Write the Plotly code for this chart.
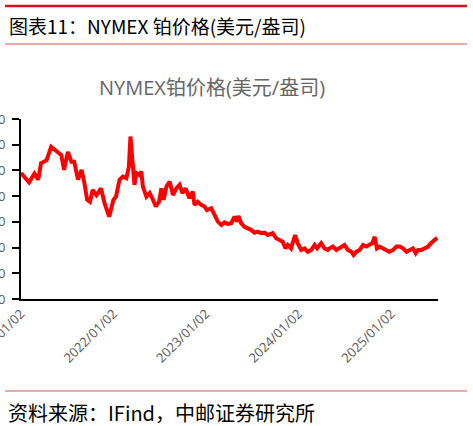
import plotly.graph_objects as go

# ---------------- data ----------------
dates = [
    "2021-01-02", "2021-01-23", "2021-02-03", "2021-02-24", "2021-03-11", "2021-03-22",
    "2021-04-13", "2021-05-01", "2021-05-23", "2021-06-10", "2021-06-21", "2021-07-06",
    "2021-07-20", "2021-07-31", "2021-08-15", "2021-08-29", "2021-09-09", "2021-09-20",
    "2021-10-01", "2021-10-12", "2021-10-27", "2021-11-14", "2021-11-28", "2021-12-16",
    "2022-01-02", "2022-01-12", "2022-01-26", "2022-02-08", "2022-02-22", "2022-03-04",
    "2022-03-10", "2022-03-17", "2022-03-26", "2022-04-02", "2022-04-15", "2022-04-22",
    "2022-04-28", "2022-05-12", "2022-05-25", "2022-06-07", "2022-06-18", "2022-07-01",
    "2022-07-10", "2022-07-19", "2022-07-30", "2022-08-12", "2022-08-25", "2022-09-07",
    "2022-09-20", "2022-10-01", "2022-10-14", "2022-10-29", "2022-11-11", "2022-11-18",
    "2022-12-01", "2022-12-14", "2022-12-27",
    "2023-01-06", "2023-01-23", "2023-02-05", "2023-02-18", "2023-03-04", "2023-03-16",
    "2023-03-29", "2023-04-12", "2023-04-25", "2023-05-05", "2023-05-10", "2023-05-21",
    "2023-06-03", "2023-06-16", "2023-06-29", "2023-07-13", "2023-07-25", "2023-08-08",
    "2023-08-21", "2023-09-03", "2023-09-23", "2023-10-06", "2023-10-19", "2023-11-01",
    "2023-11-12", "2023-11-21", "2023-12-04", "2023-12-20", "2023-12-30",
    "2024-01-13", "2024-01-26", "2024-02-08", "2024-02-22", "2024-03-06", "2024-03-16",
    "2024-04-01", "2024-04-14", "2024-04-27", "2024-05-04", "2024-05-17", "2024-05-31",
    "2024-06-13", "2024-07-02", "2024-07-15", "2024-07-29", "2024-08-07", "2024-08-18",
    "2024-08-31", "2024-09-13", "2024-09-26", "2024-10-09", "2024-10-20", "2024-10-29",
    "2024-11-07", "2024-11-17", "2024-11-30", "2024-12-13", "2024-12-26",
    "2025-01-10", "2025-01-23", "2025-02-05", "2025-02-18", "2025-03-04", "2025-03-16",
    "2025-03-29", "2025-04-09", "2025-04-18", "2025-05-02", "2025-05-15", "2025-05-28",
    "2025-06-08", "2025-06-17", "2025-06-27", "2025-07-03",
]
prices = [
    2450, 2330, 2270, 2440, 2320, 2640,
    2700, 2960, 2870, 2800, 2510, 2860,
    2670, 2670, 2320, 2510, 2260, 1930,
    1890, 2120, 2020, 2150, 1860, 1600,
    1930, 1990, 2320, 2380, 2350, 2575,
    3160, 2770, 2220, 2450, 2410, 2480,
    2185, 1990, 2060, 1930, 1800, 1890,
    2150, 1930, 2185, 2280, 2020, 2150,
    2220, 2060, 2150, 1960, 2090, 1830,
    1890, 1830, 1800,
    1730, 1765, 1635, 1505, 1440, 1490,
    1460, 1475, 1600, 1505, 1615, 1475,
    1405, 1375, 1345, 1290, 1310, 1280,
    1290, 1245, 1280, 1180, 1150, 1115,
    985, 1050, 985, 1245, 1085,
    955, 985, 920, 955, 1050, 985,
    1085, 985, 955, 985, 1020, 955,
    985, 1050, 955, 920, 855, 920,
    955, 1050, 1020, 1050, 1085, 1210,
    985, 1020, 985, 955, 920,
    955, 1020, 1020, 985, 920, 955,
    985, 890, 955, 955, 985, 1020,
    1085, 1115, 1150, 1190,
]
tick_dates = ["2021-01-02", "2022-01-02", "2023-01-02", "2024-01-02", "2025-01-02"]
tick_labels = ["2021/01/02", "2022/01/02", "2023/01/02", "2024/01/02", "2025/01/02"]
y_ticks = [0, 500, 1000, 1500, 2000, 2500, 3000, 3500]
header_text = "图表11：NYMEX 铂价格(美元/盎司)"
chart_title = "NYMEX铂价格(美元/盎司)"
source_text = "资料来源：IFind，中邮证券研究所"

# ---------------- layout helpers ----------------
W, H = 473, 426
PL, PR, PT, PB = 21, 438, 119, 299


def fx(x):
    return (x - PL) / (PR - PL)


def fy(y):
    return (PB - y) / (PB - PT)


fig = go.Figure()
fig.add_trace(go.Scatter(
    x=dates, y=prices, mode="lines",
    line=dict(color="#FF0000", width=4),
    hoverinfo="skip", showlegend=False,
))

shapes = [
    dict(type="line", xref="paper", yref="paper", x0=fx(5), x1=fx(467), y0=fy(6), y1=fy(6),
         line=dict(color="#D7141C", width=2.5)),
    dict(type="line", xref="paper", yref="paper", x0=fx(5), x1=fx(467), y0=fy(44), y1=fy(44),
         line=dict(color="#E58C8C", width=1.5)),
    dict(type="line", xref="paper", yref="paper", x0=fx(5), x1=fx(467), y0=fy(391), y1=fy(391),
         line=dict(color="#E58C8C", width=1.5)),
]

annotations = [
    dict(text=header_text, xref="paper", yref="paper", x=fx(7), y=fy(25),
         xanchor="left", yanchor="middle", showarrow=False,
         font=dict(family="Noto Sans CJK SC", size=19, color="#000000")),
    dict(text=chart_title, xref="paper", yref="paper", x=fx(212), y=fy(88),
         xanchor="center", yanchor="middle", showarrow=False,
         font=dict(family="Open Sans, Noto Sans CJK SC", size=20, color="#666666")),
    dict(text=source_text, xref="paper", yref="paper", x=fx(6), y=fy(412),
         xanchor="left", yanchor="middle", showarrow=False,
         font=dict(family="Noto Sans CJK SC", size=20, color="#000000")),
]

fig.update_layout(
    width=W, height=H,
    margin=dict(l=PL, r=W - PR, t=PT, b=H - PB, pad=0),
    paper_bgcolor="white", plot_bgcolor="white",
    shapes=shapes, annotations=annotations,
    showlegend=False,
    xaxis=dict(
        type="date", range=["2021-01-02", "2025-07-06"],
        tickmode="array", tickvals=tick_dates, ticktext=tick_labels,
        tickangle=-45, ticks="", showgrid=False, zeroline=False,
        showline=True, linecolor="#000000", linewidth=2,
        tickfont=dict(family="Open Sans", size=13, color="#595959"),
        ticklabeloverflow="allow",
        automargin=False,
    ),
    yaxis=dict(
        range=[0, 3500], tickmode="array", tickvals=y_ticks,
        ticks="outside", ticklen=7, tickwidth=2, tickcolor="#000000",
        ticklabelstandoff=4,
        showgrid=False, zeroline=False,
        showline=True, linecolor="#000000", linewidth=2,
        tickfont=dict(family="Open Sans", size=13, color="#595959"),
        ticklabeloverflow="allow",
        automargin=False,
    ),
)

fig.write_html("out.html", config={"displayModeBar": False},
               post_script="document.body.style.margin='0';")
